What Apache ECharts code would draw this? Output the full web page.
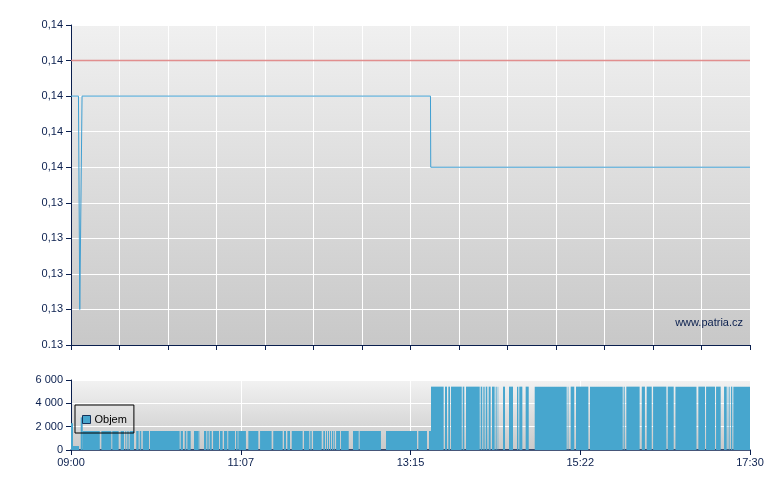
<!DOCTYPE html>
<html>
<head>
<meta charset="utf-8">
<script src="https://cdn.jsdelivr.net/npm/echarts@6/dist/echarts.min.js"></script>
<style>html,body{margin:0;padding:0;background:#fff}#c{width:780px;height:490px}</style>
</head>
<body>
<div id="c"></div>
<script>
// ---- data (x in minutes since 09:00) ----
const priceX = [0, 5.6, 6.6, 7.5, 8.3, 270, 270.2, 510];
const priceY = [0.136, 0.136, 0.133, 0.133, 0.136, 0.136, 0.135, 0.135];
const refX = [0, 510];
const refY = [0.1365, 0.1365];
const yTickLabels = ['0.13', '0,13', '0,13', '0,13', '0,13', '0,14', '0,14', '0,14', '0,14', '0,14'];
const xTickLabels = ['09:00', '11:07', '13:15', '15:22', '17:30'];
const volTickLabels = ['0', '2 000', '4 000', '6 000'];
// volume segments: start minute, end minute, volume
const volStart = [0, 1.5, 7.3, 8.8, 22.8, 31.0, 37.3, 40.8, 42.3, 44.1, 49.0, 51.6, 53.9, 59.3, 82.4, 85.4, 87.4, 92.4, 95.6,
  99.9, 101.9, 103.1, 104.4, 106.7, 111.9, 114.9, 118.1, 123.9, 125.7, 133.2, 142.0, 151.9, 160.0, 162.5, 165.8, 175.0, 179.7,
  181.8, 189.5, 191.5, 193.0, 194.5, 196.0, 197.3, 199.1, 202.8, 211.8, 216.8, 236.6, 260.9, 268.9,
  270.4, 280.9, 283.4, 285.4, 294.2, 296.7, 307.7, 309.7, 311.5, 313.7, 316.2, 319.0, 320.5, 324.5, 329.0, 335.0, 336.7, 341.5,
  348.3, 373.1, 375.3, 379.3, 389.8, 415.1, 417.1, 428.7, 432.4, 437.2, 448.2, 454.0, 471.2, 477.0, 484.5, 490.5, 493.3, 494.5,
  495.7, 497.5];
const volEnd = [1.5, 6.0, 8.8, 21.6, 30.3, 35.8, 39.8, 41.5, 43.3, 47.3, 50.8, 52.8, 58.6, 81.6, 84.1, 86.6, 89.9, 95.4, 96.4,
  101.4, 102.7, 103.9, 105.7, 111.2, 113.9, 117.4, 123.2, 125.2, 131.4, 140.7, 150.7, 159.0, 161.5, 164.5, 174.0, 179.0, 180.8,
  188.3, 190.8, 192.3, 193.8, 195.3, 196.8, 198.1, 202.1, 208.6, 216.1, 232.8, 259.9, 267.4, 270.4,
  279.9, 282.4, 284.7, 293.5, 295.4, 307.0, 308.9, 310.7, 312.7, 315.2, 318.2, 319.7, 320.9, 326.0, 332.0, 336.0, 339.0, 343.8,
  372.3, 373.6, 378.0, 388.6, 414.4, 415.9, 427.1, 431.1, 436.2, 447.2, 452.7, 469.8, 476.2, 483.7, 488.0, 492.5, 493.7, 495.0,
  496.7, 510];
const volValue = [2300, 340, 2800, 1630, 1630, 1630, 1630, 1630, 1630, 1630, 1630, 1630, 1630, 1630, 1630, 1630, 1630, 1630, 1630,
  1630, 1630, 1630, 1630, 1630, 1630, 1630, 1630, 1630, 1630, 1630, 1630, 1630, 1630, 1630, 1630, 1630, 1630,
  1630, 1630, 1630, 1630, 1630, 1630, 1630, 1630, 1630, 1630, 1630, 1630, 1630, 1630,
  5430, 5430, 5430, 5430, 5430, 5430, 5430, 5430, 5430, 5430, 5430, 5430, 5430, 5430, 5430, 5430, 5430, 5430,
  5430, 5430, 5430, 5430, 5430, 5430, 5430, 5430, 5430, 5430, 5430, 5430, 5430, 5430, 5430, 5430, 5430, 5430,
  5430, 5430];

const NAVY = '#0a1f4e';
const FONT = 'Liberation Sans';
const bg = (c1, c2) => ({type: 'linear', x: 0, y: 0, x2: 0, y2: 1, colorStops: [{offset: 0, color: c1}, {offset: 1, color: c2}]});

const chart = echarts.init(document.getElementById('c'), null, {renderer: 'canvas'});
chart.setOption({
  animation: false,
  textStyle: {fontFamily: FONT},
  grid: [
    {left: 71, top: 25, width: 679, height: 320, show: true, borderWidth: 0, backgroundColor: bg('#f0f0f0', '#c8c8c8')},
    {left: 71, top: 380, width: 679, height: 70, show: true, borderWidth: 0, backgroundColor: bg('#f2f2f2', '#c9c9c9')}
  ],
  legend: {
    left: 75, top: 405, padding: [9, 7, 8, 7], borderColor: '#000', borderWidth: 1, borderRadius: 0,
    itemWidth: 8, itemHeight: 8, itemGap: 4,
    textStyle: {fontFamily: FONT, fontSize: 11, color: '#000', padding: [0, 0, 0, -1]},
    data: [{name: 'Objem', icon: 'rect', itemStyle: {color: '#47a6ce', borderColor: '#16325a', borderWidth: 1}}]
  },
  xAxis: [
    {type: 'value', gridIndex: 0, min: 0, max: 510, interval: 510 / 14,
      axisLine: {lineStyle: {color: NAVY, width: 1}}, axisTick: {show: true, length: 5, lineStyle: {color: NAVY}},
      axisLabel: {show: false}, splitLine: {show: true, lineStyle: {color: '#ffffff', width: 1}}},
    {type: 'value', gridIndex: 1, min: 0, max: 510, interval: 127.5,
      axisLine: {lineStyle: {color: NAVY, width: 1.5}}, axisTick: {show: true, length: 5, lineStyle: {color: NAVY}},
      axisLabel: {color: NAVY, fontSize: 11, fontFamily: FONT, margin: 7, formatter: (v, i) => xTickLabels[i]},
      splitLine: {show: true, lineStyle: {color: '#ffffff', width: 1}}}
  ],
  yAxis: [
    {type: 'value', gridIndex: 0, min: 0.1325, max: 0.137, interval: 0.0005,
      axisLine: {show: true, lineStyle: {color: NAVY, width: 1}}, axisTick: {show: true, length: 5, lineStyle: {color: NAVY}},
      axisLabel: {color: NAVY, fontSize: 11, fontFamily: FONT, margin: 8, formatter: (v, i) => yTickLabels[i]},
      splitLine: {show: true, lineStyle: {color: '#ffffff', width: 1}}},
    {type: 'value', gridIndex: 1, min: 0, max: 6000, interval: 2000,
      axisLine: {show: true, lineStyle: {color: NAVY, width: 1}}, axisTick: {show: true, length: 5, lineStyle: {color: NAVY}},
      axisLabel: {color: NAVY, fontSize: 11, fontFamily: FONT, margin: 8, formatter: (v, i) => volTickLabels[i]},
      splitLine: {show: true, lineStyle: {color: '#ffffff', width: 1}}}
  ],
  graphic: [
    {type: 'text', right: 37, top: 317, z: 100,
      style: {text: 'www.patria.cz', fill: NAVY, font: '11px "Liberation Sans"'}}
  ],
  series: [
    {type: 'line', name: 'ref', xAxisIndex: 0, yAxisIndex: 0, symbol: 'none',
      data: refX.map((x, i) => [x, refY[i]]),
      lineStyle: {color: '#dc7a7a', width: 1.5, opacity: 0.85}},
    {type: 'line', name: 'Cena', xAxisIndex: 0, yAxisIndex: 0, symbol: 'none',
      data: priceX.map((x, i) => [x, priceY[i]]),
      lineStyle: {color: '#3f9fd2', width: 1}},
    {type: 'custom', name: 'Objem', xAxisIndex: 1, yAxisIndex: 1,
      itemStyle: {color: '#47a6ce'},
      encode: {x: [0, 1], y: 2},
      data: volStart.map((s, i) => [s, volEnd[i], volValue[i]]),
      renderItem: function (params, api) {
        const p0 = api.coord([api.value(0), api.value(2)]);
        const p1 = api.coord([api.value(1), 0]);
        return {type: 'rect', shape: {x: p0[0], y: p0[1], width: p1[0] - p0[0], height: p1[1] - p0[1]},
          style: {fill: '#47a6ce'}};
      }}
  ]
});
</script>
</body>
</html>
